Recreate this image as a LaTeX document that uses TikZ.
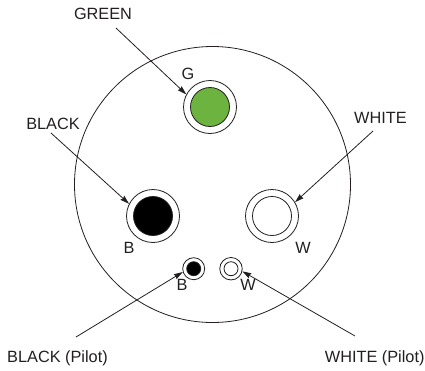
\documentclass[tikz,border=0pt]{standalone}
\usepackage{fontspec}
\setmainfont{Liberation Sans}
\usetikzlibrary{arrows.meta}
\definecolor{ink}{HTML}{231F20}
\definecolor{wiregreen}{HTML}{6DB33F}
\tikzset{
  ring/.style={circle,draw=ink,line width=0.8pt,fill=white,inner sep=0pt,minimum size=#1},
  core/.style={circle,draw=ink,line width=0.8pt,inner sep=0pt,minimum size=#1},
  lbl/.style={font=\fontsize{16.3pt}{18pt}\selectfont,text=ink,anchor=base,inner sep=0pt},
  lead/.style={draw=ink,line width=0.8pt,-{Stealth[length=9pt,width=5.5pt,inset=1pt]},shorten >=0pt}
}
\begin{document}
\begin{tikzpicture}[x=1pt,y=-1pt]
\useasboundingbox (0,0) rectangle (425,370);
\node[circle,draw=ink,line width=0.8pt,inner sep=0pt,minimum size=276pt] (shell) at (212.5,184.5) {};
% contacts
\node[ring=53pt] (gOuter) at (210,107) {};
\node[core=39pt,fill=wiregreen] (gInner) at (210,107) {};
\node[ring=53pt] (bOuter) at (153,216) {};
\node[core=39pt,fill=black] (bInner) at (153,216) {};
\node[ring=53pt] (wOuter) at (272,216) {};
\node[core=39pt,fill=white] (wInner) at (272,216) {};
\node[ring=22pt] (bpOuter) at (193.7,268.7) {};
\node[core=14pt,fill=black] (bpInner) at (193.7,268.7) {};
\node[ring=22.5pt] (wpOuter) at (231,268.7) {};
\node[core=14pt,fill=white] (wpInner) at (231,268.7) {};
% labels
\node[lbl] (tGreen) at (103,19) {GREEN};
\node[lbl] (tG) at (188,79) {G};
\node[lbl] (tBlack) at (53,129) {BLACK};
\node[lbl] (tWhite) at (380.5,123) {WHITE};
\node[lbl] (tB) at (129,253) {B};
\node[lbl] (tW) at (303,253) {W};
\node[lbl] (tBp) at (182,290) {B};
\node[lbl] (tWp) at (248,290) {W};
\node[lbl] (tBlackP) at (57.5,362) {BLACK (Pilot)};
\node[lbl] (tWhiteP) at (374.7,362) {WHITE (Pilot)};
% free ends
\coordinate (sGreen) at (116,28);
\coordinate (sBlack) at (51,133);
\coordinate (sWhite) at (373,131);
\coordinate (sBlackP) at (76,337);
\coordinate (sWhiteP) at (355,336);
% leaders
\draw[lead] (sGreen) -- (gOuter.152);
\draw[lead] (sBlack) -- (bOuter.153);
\draw[lead] (sWhite) -- (wOuter.31);
\draw[lead] (sBlackP) -- (bpOuter.197);
\draw[lead] (sWhiteP) -- (wpOuter.347);
\end{tikzpicture}
\end{document}
